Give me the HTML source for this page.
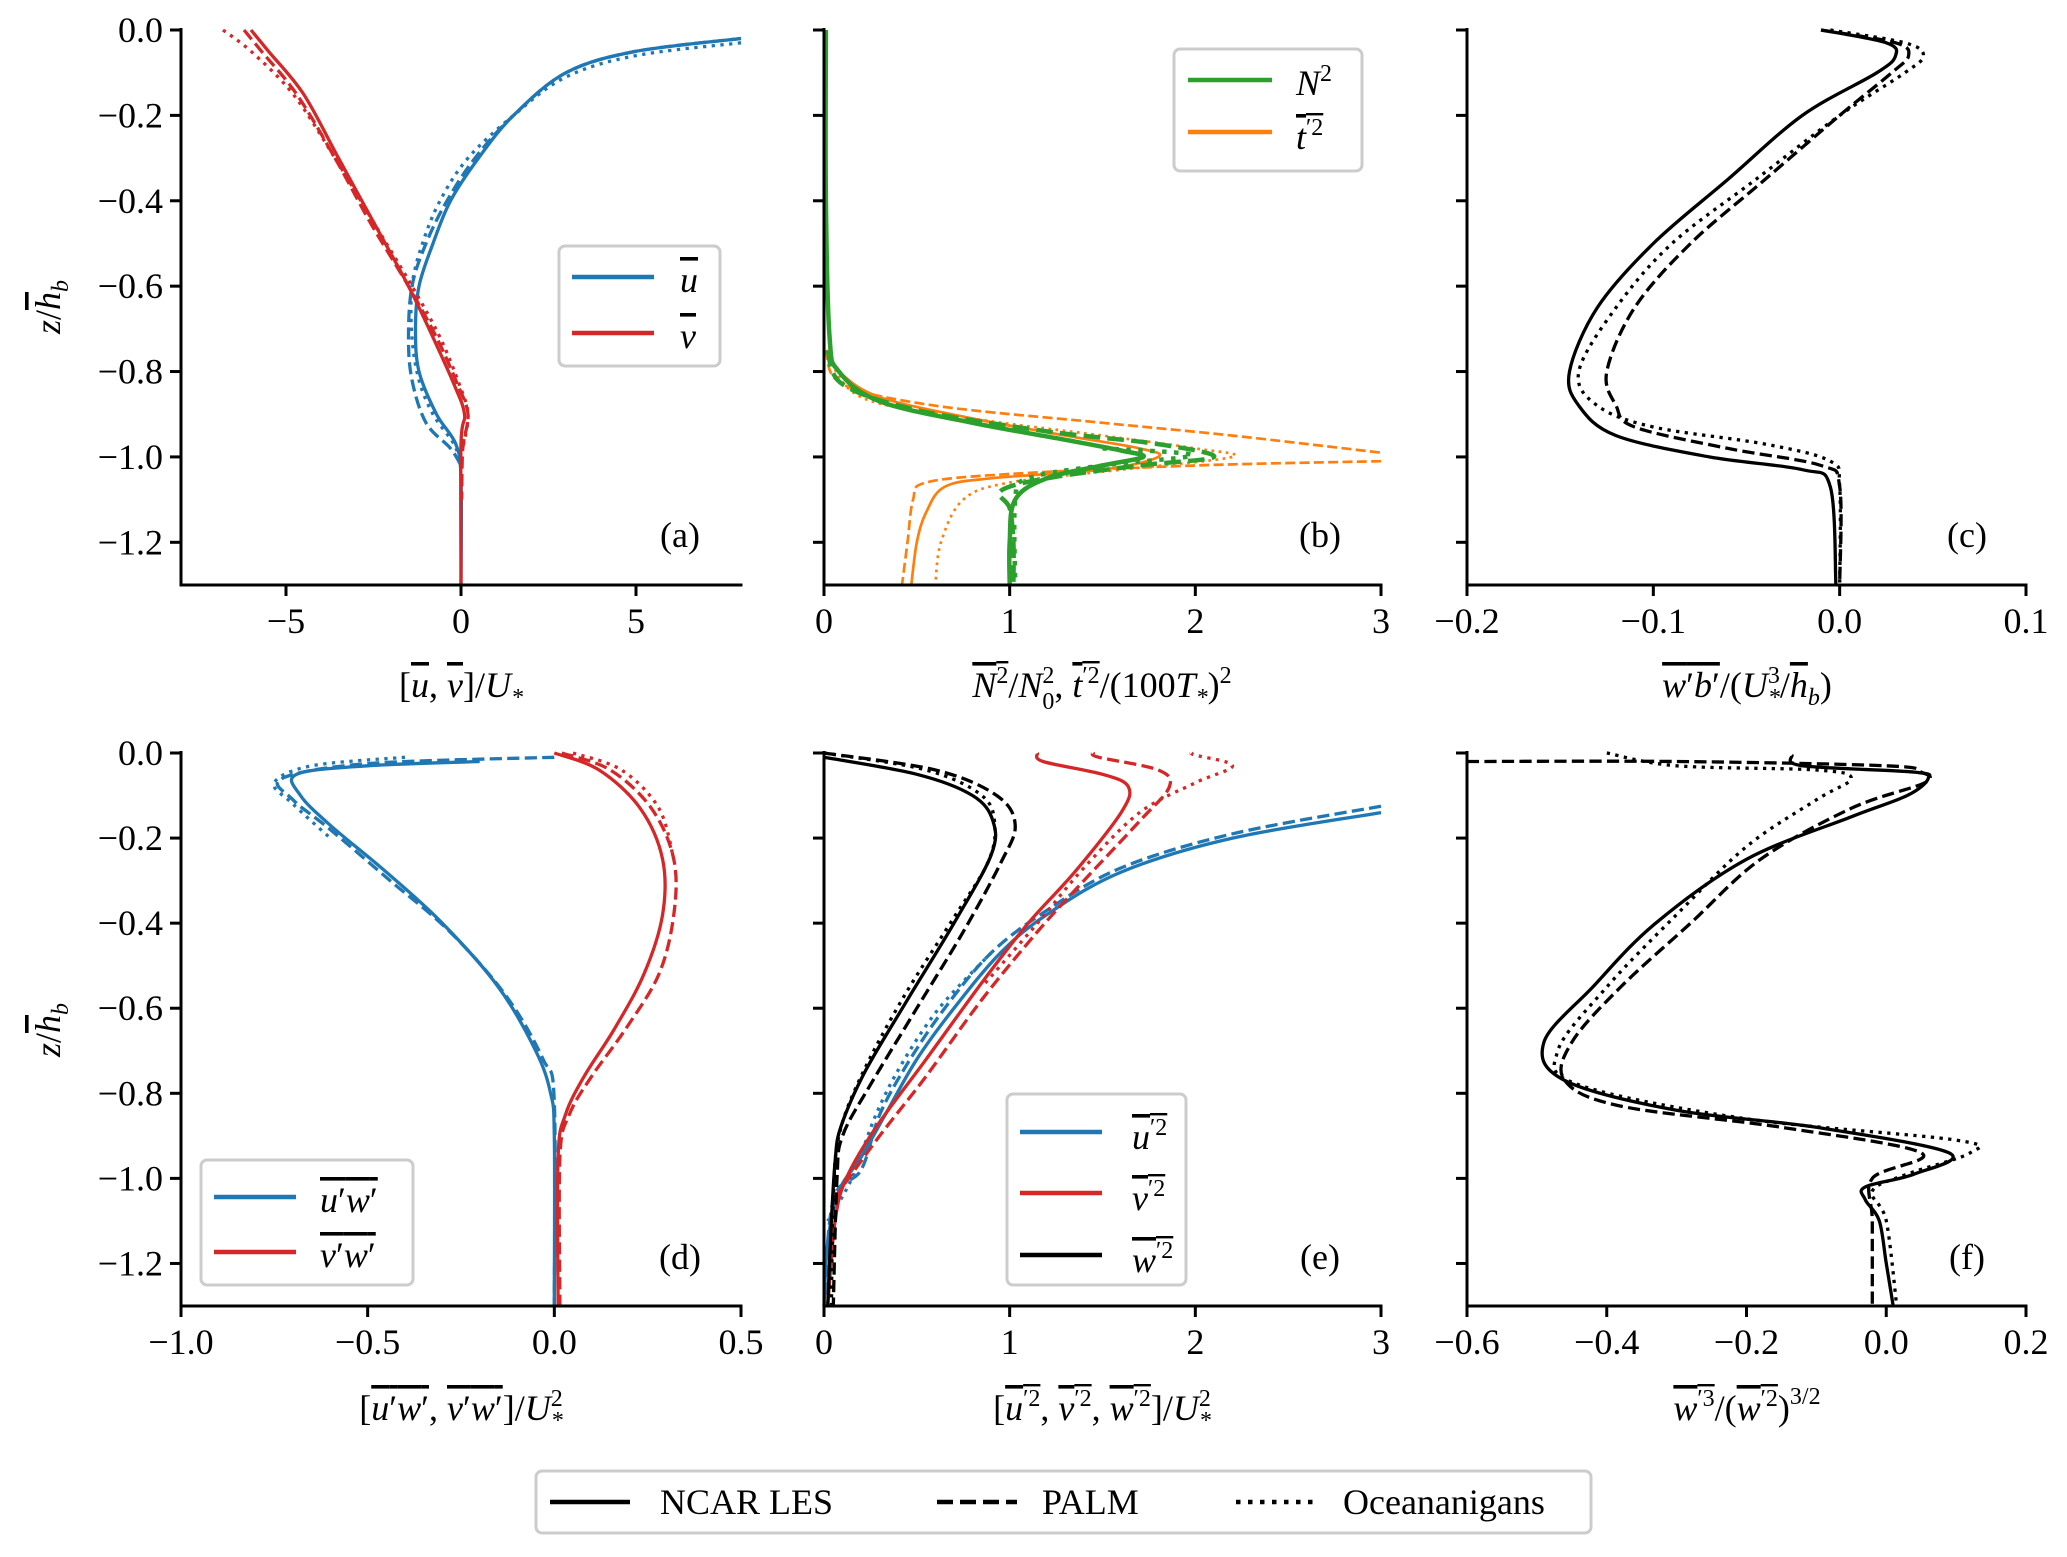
<!DOCTYPE html>
<html><head><meta charset="utf-8"><style>
html,body{margin:0;padding:0;background:#fff;}
svg{display:block;font-family:"Liberation Serif",serif;}
.t{font-size:36px;fill:#000;}
.lb{font-size:36px;fill:#000;font-style:italic;}
.o{text-decoration:overline;}
.n{font-style:normal;}
</style></head><body>
<svg id="s" width="2067" height="1557" viewBox="0 0 2067 1557" xmlns="http://www.w3.org/2000/svg">
<rect width="2067" height="1557" fill="#fff"/>
<g id="curves"></g>
<g id="axes" stroke="#000" stroke-width="3" fill="none"></g>
<g id="texts"></g>

<!-- x labels -->
<text class="lb" x="461" y="697" text-anchor="middle"><tspan class="n">[</tspan><tspan class="o">u</tspan><tspan class="n">, </tspan><tspan class="o">v</tspan><tspan class="n">]/</tspan>U<tspan font-size="24" dy="8">*</tspan></text>
<text class="lb" x="1102" y="697" text-anchor="middle"><tspan class="o">N<tspan font-size="24" dy="-14" class="n">2</tspan></tspan><tspan dy="14" class="n">/</tspan>N<tspan font-size="24" dy="-14" class="n">2</tspan><tspan font-size="24" dx="-12" dy="26" class="n">0</tspan><tspan dy="-12" class="n">, </tspan><tspan class="o">t<tspan class="n" font-size="24" dy="-14">′2</tspan></tspan><tspan dy="14" class="n">/(100</tspan>T<tspan font-size="24" dy="8">*</tspan><tspan class="n" dy="-8">)</tspan><tspan font-size="24" dy="-14" class="n">2</tspan></text>
<text class="lb" x="1747" y="697" text-anchor="middle"><tspan class="o">w<tspan class="n">′</tspan>b<tspan class="n">′</tspan></tspan><tspan class="n">/(</tspan>U<tspan font-size="24" dy="-14" class="n">3</tspan><tspan font-size="24" dx="-12" dy="22">*</tspan><tspan class="n" dy="-8">/</tspan><tspan class="o">h</tspan><tspan font-size="24" dy="8">b</tspan><tspan class="n" dy="-8">)</tspan></text>

<text class="lb" x="461" y="1420" text-anchor="middle"><tspan class="n">[</tspan><tspan class="o">u<tspan class="n">′</tspan>w<tspan class="n">′</tspan></tspan><tspan class="n">, </tspan><tspan class="o">v<tspan class="n">′</tspan>w<tspan class="n">′</tspan></tspan><tspan class="n">]/</tspan>U<tspan font-size="24" dy="-14" class="n">2</tspan><tspan font-size="24" dx="-12" dy="22">*</tspan></text>
<text class="lb" x="1102" y="1420" text-anchor="middle"><tspan class="n">[</tspan><tspan class="o">u<tspan class="n" font-size="24" dy="-14">′2</tspan></tspan><tspan class="n" dy="14">, </tspan><tspan class="o">v<tspan class="n" font-size="24" dy="-14">′2</tspan></tspan><tspan class="n" dy="14">, </tspan><tspan class="o">w<tspan class="n" font-size="24" dy="-14">′2</tspan></tspan><tspan class="n" dy="14">]/</tspan>U<tspan font-size="24" dy="-14" class="n">2</tspan><tspan font-size="24" dx="-12" dy="22">*</tspan></text>
<text class="lb" x="1747" y="1420" text-anchor="middle"><tspan class="o">w<tspan class="n" font-size="24" dy="-14">′3</tspan></tspan><tspan class="n" dy="14">/(</tspan><tspan class="o">w<tspan class="n" font-size="24" dy="-14">′2</tspan></tspan><tspan class="n" dy="14">)</tspan><tspan class="n" font-size="24" dy="-16">3/2</tspan></text>

<!-- y labels -->
<text class="lb" transform="translate(60,307) rotate(-90)" text-anchor="middle">z<tspan class="n">/</tspan><tspan class="o">h</tspan><tspan font-size="24" dy="8">b</tspan></text>
<text class="lb" transform="translate(60,1030) rotate(-90)" text-anchor="middle">z<tspan class="n">/</tspan><tspan class="o">h</tspan><tspan font-size="24" dy="8">b</tspan></text>

<!-- panel letters -->
<text class="t" x="680" y="547" text-anchor="middle" font-size="38">(a)</text>
<text class="t" x="1320" y="547" text-anchor="middle" font-size="38">(b)</text>
<text class="t" x="1967" y="547" text-anchor="middle" font-size="38">(c)</text>
<text class="t" x="680" y="1269" text-anchor="middle" font-size="38">(d)</text>
<text class="t" x="1320" y="1269" text-anchor="middle" font-size="38">(e)</text>
<text class="t" x="1967" y="1269" text-anchor="middle" font-size="38">(f)</text>

<!-- legends -->
<g fill="#fff" stroke="#ccc" stroke-width="3">
<rect x="559" y="246" width="161" height="120" rx="6"/>
<rect x="1174" y="49" width="188" height="122" rx="6"/>
<rect x="201" y="1160" width="212" height="125" rx="6"/>
<rect x="1007" y="1094" width="179" height="191" rx="6"/>
<rect x="536" y="1471" width="1055" height="62" rx="6"/>
</g>
<g stroke-width="4.5">
<line x1="572" y1="277" x2="654" y2="277" stroke="#1f77b4"/>
<line x1="572" y1="333" x2="654" y2="333" stroke="#d62728"/>
<line x1="1188" y1="80" x2="1272" y2="80" stroke="#2ca02c"/>
<line x1="1188" y1="132" x2="1272" y2="132" stroke="#ff7f0e"/>
<line x1="214" y1="1197" x2="296" y2="1197" stroke="#1f77b4"/>
<line x1="214" y1="1252" x2="296" y2="1252" stroke="#d62728"/>
<line x1="1020" y1="1132" x2="1102" y2="1132" stroke="#1f77b4"/>
<line x1="1020" y1="1193" x2="1102" y2="1193" stroke="#d62728"/>
<line x1="1020" y1="1255" x2="1102" y2="1255" stroke="#000"/>
<line x1="550" y1="1502" x2="630" y2="1502" stroke="#000"/>
<line x1="937" y1="1502" x2="1017" y2="1502" stroke="#000" stroke-dasharray="16,7"/>
<line x1="1236" y1="1502" x2="1316" y2="1502" stroke="#000" stroke-dasharray="4.5,7.5"/>
</g>
<g>
<text x="680" y="292" class="lb"><tspan class="o">u</tspan></text>
<text x="680" y="348" class="lb"><tspan class="o">v</tspan></text>
<text x="1296" y="95" class="lb">N<tspan font-size="24" dy="-14" class="n">2</tspan></text>
<text x="1296" y="149" class="lb"><tspan class="o">t<tspan font-size="24" dy="-14" class="n">′2</tspan></tspan></text>
<text x="320" y="1212" class="lb"><tspan class="o">u<tspan class="n">′</tspan>w<tspan class="n">′</tspan></tspan></text>
<text x="320" y="1267" class="lb"><tspan class="o">v<tspan class="n">′</tspan>w<tspan class="n">′</tspan></tspan></text>
<text x="1132" y="1149" class="lb"><tspan class="o">u<tspan font-size="24" dy="-14" class="n">′2</tspan></tspan></text>
<text x="1132" y="1210" class="lb"><tspan class="o">v<tspan font-size="24" dy="-14" class="n">′2</tspan></tspan></text>
<text x="1132" y="1272" class="lb"><tspan class="o">w<tspan font-size="24" dy="-14" class="n">′2</tspan></tspan></text>
</g>
<text class="t" x="660" y="1514">NCAR LES</text>
<text class="t" x="1042" y="1514">PALM</text>
<text class="t" x="1343" y="1514">Oceananigans</text>
</svg>
<script>
(function(){
var NS="http://www.w3.org/2000/svg";
var top=[30,585],bot=[753,1306];
var cols={a:[181,741,-8,8],b:[824,1381,0,3],c:[1467,2026,-0.2,0.1],d:[181,741,-1,0.5],e:[824,1381,0,3],f:[1467,2026,-0.6,0.2]};
var rows={a:top,b:top,c:top,d:bot,e:bot,f:bot};
function mx(p,v){var c=cols[p];return c[0]+(v-c[2])/(c[3]-c[2])*(c[1]-c[0]);}
function my(p,z){var r=rows[p];return r[0]+(-z)/1.3*(r[1]-r[0]);}
var cg=document.getElementById('curves');
function path(p,pts,color,style,w){
  var P=pts.map(function(q){return [mx(p,q[0]),my(p,q[1])];});
  var d="M"+P[0][0].toFixed(1)+","+P[0][1].toFixed(1);
  for(var i=0;i<P.length-1;i++){
    var p0=P[i-1]||P[i],p1=P[i],p2=P[i+1],p3=P[i+2]||P[i+1];
    var c1=[p1[0]+(p2[0]-p0[0])/6,p1[1]+(p2[1]-p0[1])/6];
    var c2=[p2[0]-(p3[0]-p1[0])/6,p2[1]-(p3[1]-p1[1])/6];
    d+="C"+c1[0].toFixed(1)+","+c1[1].toFixed(1)+" "+c2[0].toFixed(1)+","+c2[1].toFixed(1)+" "+p2[0].toFixed(1)+","+p2[1].toFixed(1);
  }
  var e=document.createElementNS(NS,"path");
  e.setAttribute("d",d);e.setAttribute("fill","none");e.setAttribute("stroke",color);
  w=w||3.3;e.setAttribute("stroke-width",w);
  if(style==="--")e.setAttribute("stroke-dasharray",(3.7*w)+","+(1.6*w));
  if(style===":")e.setAttribute("stroke-dasharray",(1*w)+","+(1.65*w));
  cg.appendChild(e);
}
var B="#1f77b4",R="#d62728",G="#2ca02c",O="#ff7f0e",K="#000";
// (a)
path('a',[[8,-0.02],[5,-0.05],[3,-0.1],[1.5,-0.2],[0.5,-0.3],[-0.3,-0.4],[-0.8,-0.5],[-1.2,-0.6],[-1.3,-0.7],[-1.2,-0.8],[-0.7,-0.9],[-0.15,-0.97],[0,-1.05],[0,-1.3]],B,'-');
path('a',[[8,-0.02],[5,-0.05],[3,-0.1],[1.5,-0.2],[0.4,-0.3],[-0.4,-0.4],[-1.0,-0.5],[-1.4,-0.6],[-1.5,-0.72],[-1.4,-0.82],[-1.0,-0.92],[-0.3,-0.98],[0,-1.02]],B,'--');
path('a',[[8,-0.03],[5,-0.06],[3,-0.11],[1.5,-0.2],[0.2,-0.3],[-0.6,-0.4],[-1.1,-0.5],[-1.4,-0.6],[-1.4,-0.72],[-1.2,-0.82],[-0.8,-0.9],[-0.2,-0.97],[0,-1.02]],B,':');
path('a',[[-6,0],[-5.5,-0.05],[-4.5,-0.15],[-3.5,-0.3],[-2.5,-0.45],[-1.5,-0.6],[-0.8,-0.72],[-0.2,-0.83],[0.1,-0.9],[0,-0.97],[0,-1.3]],R,'-');
path('a',[[-6.2,0],[-5.7,-0.05],[-4.7,-0.15],[-3.6,-0.3],[-2.6,-0.45],[-1.5,-0.6],[-0.7,-0.72],[-0.1,-0.83],[0.2,-0.9],[0.05,-0.98],[0.02,-1.1]],R,'--');
path('a',[[-6.8,0],[-6,-0.05],[-4.8,-0.15],[-3.6,-0.3],[-2.5,-0.45],[-1.4,-0.6],[-0.6,-0.72],[-0.05,-0.83],[0.2,-0.9],[0.05,-0.98]],R,':');
// (b)
path('b',[[0.01,-0.75],[0.08,-0.8],[0.3,-0.86],[0.8,-0.91],[1.3,-0.95],[1.7,-0.98],[1.8,-1.0],[1.5,-1.03],[0.9,-1.05],[0.65,-1.07],[0.55,-1.13],[0.5,-1.2],[0.47,-1.3]],O,'-',2.7);
path('b',[[0.01,-0.75],[0.1,-0.83],[0.6,-0.88],[1.5,-0.92],[2.2,-0.95],[3.0,-0.99]],O,'--',2.7);
path('b',[[3.0,-1.01],[2.0,-1.02],[1.0,-1.04],[0.55,-1.06],[0.48,-1.1],[0.45,-1.2],[0.42,-1.3]],O,'--',2.7);
path('b',[[0.01,-0.75],[0.2,-0.86],[0.8,-0.91],[1.5,-0.95],[2.0,-0.98],[2.2,-1.0],[1.6,-1.03],[1.0,-1.06],[0.75,-1.1],[0.63,-1.2],[0.6,-1.3]],O,':',2.7);
path('b',[[0.01,0],[0.01,-0.4],[0.03,-0.72],[0.08,-0.8],[0.3,-0.87],[0.8,-0.92],[1.3,-0.96],[1.6,-0.985],[1.72,-1.0],[1.5,-1.02],[1.2,-1.05],[1.03,-1.1],[1.0,-1.2],[1.0,-1.3]],G,'-',4.5);
path('b',[[0.02,-0.75],[0.1,-0.83],[0.5,-0.89],[1.2,-0.94],[1.8,-0.97],[2.1,-1.0],[1.7,-1.02],[1.2,-1.05],[0.95,-1.08],[1.0,-1.12],[1.02,-1.2],[1.02,-1.3]],G,'--',4.5);
path('b',[[1.5,-0.98],[1.9,-0.99],[1.95,-1.0],[1.5,-1.02],[1.1,-1.05],[1.03,-1.1],[1.03,-1.3]],G,':',4.5);
// (c)
path('c',[[-0.01,0],[0.025,-0.03],[0.03,-0.06],[0.02,-0.1],[-0.02,-0.2],[-0.06,-0.35],[-0.1,-0.5],[-0.13,-0.65],[-0.145,-0.8],[-0.14,-0.88],[-0.12,-0.95],[-0.07,-1.0],[-0.02,-1.03],[-0.005,-1.07],[-0.002,-1.3]],K,'-');
path('c',[[-0.01,0],[0.03,-0.03],[0.037,-0.06],[0.028,-0.1],[0.0,-0.2],[-0.04,-0.35],[-0.08,-0.5],[-0.11,-0.65],[-0.125,-0.8],[-0.12,-0.88],[-0.11,-0.93],[-0.06,-0.98],[-0.01,-1.02],[0,-1.07],[0,-1.3]],K,'--');
path('c',[[-0.005,0],[0.035,-0.03],[0.045,-0.06],[0.035,-0.1],[0.0,-0.2],[-0.045,-0.35],[-0.09,-0.5],[-0.12,-0.65],[-0.14,-0.8],[-0.13,-0.88],[-0.1,-0.93],[-0.04,-0.97],[-0.005,-1.01],[0.0,-1.07],[0,-1.3]],K,':');
// (d)
path('d',[[-0.2,-0.02],[-0.5,-0.03],[-0.69,-0.05],[-0.68,-0.1],[-0.6,-0.17],[-0.45,-0.28],[-0.3,-0.4],[-0.15,-0.55],[-0.05,-0.7],[-0.01,-0.8],[0,-0.9],[0,-1.3]],B,'-');
path('d',[[0,-0.01],[-0.5,-0.025],[-0.73,-0.06],[-0.7,-0.11],[-0.6,-0.18],[-0.44,-0.3],[-0.28,-0.42],[-0.13,-0.57],[-0.03,-0.72],[0,-0.82],[0,-1.3]],B,'--');
path('d',[[-0.4,-0.01],[-0.65,-0.03],[-0.75,-0.07],[-0.7,-0.12],[-0.6,-0.2]],B,':');
path('d',[[0,-0.0],[0.12,-0.04],[0.23,-0.13],[0.29,-0.25],[0.29,-0.38],[0.24,-0.52],[0.16,-0.65],[0.08,-0.76],[0.03,-0.85],[0.01,-0.95],[0.01,-1.3]],R,'-');
path('d',[[0.02,-0.0],[0.15,-0.04],[0.26,-0.13],[0.32,-0.25],[0.32,-0.38],[0.28,-0.52],[0.19,-0.65],[0.1,-0.76],[0.04,-0.85],[0.015,-0.95],[0.015,-1.3]],R,'--');
path('d',[[0.05,-0.0],[0.18,-0.04],[0.28,-0.13],[0.32,-0.25]],R,':');
// (e)
path('e',[[3,-0.14],[2.2,-0.2],[1.6,-0.28],[1.2,-0.38],[0.95,-0.47],[0.7,-0.6],[0.5,-0.72],[0.33,-0.85],[0.2,-0.95],[0.08,-1.03],[0.02,-1.15],[0,-1.3]],B,'-');
path('e',[[3,-0.125],[2.2,-0.19],[1.6,-0.27],[1.2,-0.37],[0.9,-0.47],[0.65,-0.6],[0.45,-0.73],[0.3,-0.85],[0.2,-0.98],[0.05,-1.05],[0,-1.3]],B,'--');
path('e',[[0.9,-0.47],[0.62,-0.6],[0.42,-0.73],[0.28,-0.85],[0.15,-1.0],[0.02,-1.1]],B,':');
path('e',[[1.15,-0.0],[1.18,-0.02],[1.5,-0.05],[1.64,-0.08],[1.6,-0.14],[1.35,-0.28],[1.1,-0.4],[0.85,-0.54],[0.55,-0.72],[0.28,-0.88],[0.12,-1.0],[0.06,-1.1],[0.02,-1.3]],R,'-');
path('e',[[1.45,-0.0],[1.48,-0.01],[1.8,-0.04],[1.86,-0.08],[1.7,-0.16],[1.4,-0.3],[1.15,-0.42],[0.85,-0.58],[0.55,-0.76],[0.3,-0.9],[0.05,-1.05]],R,'--');
path('e',[[1.98,-0.0],[2.0,-0.005],[2.2,-0.03],[2.0,-0.07],[1.7,-0.14],[1.4,-0.27],[1.15,-0.4],[0.85,-0.55]],R,':');
path('e',[[0.0,-0.01],[0.5,-0.05],[0.8,-0.1],[0.91,-0.16],[0.9,-0.24],[0.7,-0.4],[0.45,-0.58],[0.22,-0.75],[0.09,-0.88],[0.06,-0.96],[0.04,-1.1],[0.02,-1.3]],K,'-');
path('e',[[0.0,-0.0],[0.6,-0.04],[0.93,-0.1],[1.03,-0.17],[0.95,-0.26],[0.75,-0.42],[0.5,-0.6],[0.25,-0.78],[0.1,-0.9],[0.07,-1.0],[0.05,-1.3]],K,'--');
path('e',[[0.0,-0.0],[0.55,-0.04],[0.85,-0.1],[0.92,-0.17],[0.88,-0.26],[0.68,-0.4],[0.42,-0.58],[0.2,-0.76],[0.08,-0.9],[0.05,-1.05],[0.04,-1.3]],K,':');
// (f)
path('f',[[-0.135,-0.005],[-0.12,-0.03],[0.04,-0.045],[0.06,-0.06],[0.03,-0.1],[-0.05,-0.15],[-0.2,-0.25],[-0.33,-0.4],[-0.42,-0.55],[-0.49,-0.68],[-0.46,-0.77],[-0.3,-0.84],[-0.1,-0.88],[0.09,-0.94],[0.04,-0.99],[-0.03,-1.02],[-0.03,-1.05],[-0.01,-1.1],[0.0,-1.2],[0.01,-1.3]],K,'-');
path('f',[[-0.6,-0.02],[-0.3,-0.02],[0.0,-0.03],[0.05,-0.045],[0.055,-0.07],[-0.05,-0.13],[-0.18,-0.25],[-0.28,-0.4],[-0.38,-0.55],[-0.45,-0.68],[-0.46,-0.77],[-0.38,-0.83],[-0.15,-0.88],[0.05,-0.94],[-0.02,-1.0],[-0.02,-1.1],[-0.02,-1.3]],K,'--');
path('f',[[-0.4,-0.0],[-0.3,-0.03],[-0.1,-0.04],[-0.05,-0.06],[-0.1,-0.11],[-0.2,-0.22],[-0.3,-0.38],[-0.4,-0.55],[-0.47,-0.7],[-0.44,-0.78],[-0.2,-0.86],[0.1,-0.91],[0.12,-0.94],[0.03,-0.99],[-0.02,-1.03],[0.0,-1.1],[0.015,-1.3]],K,':');

// axes
var ax=document.getElementById('axes'),tx=document.getElementById('texts');
function L(x1,y1,x2,y2){var e=document.createElementNS(NS,"line");e.setAttribute("x1",x1);e.setAttribute("y1",y1);e.setAttribute("x2",x2);e.setAttribute("y2",y2);ax.appendChild(e);}
function T(x,y,s,anchor){var e=document.createElementNS(NS,"text");e.setAttribute("x",x);e.setAttribute("y",y);e.setAttribute("class","t");e.setAttribute("text-anchor",anchor);e.textContent=s;tx.appendChild(e);}
var xt={a:[[-5,"−5"],[0,"0"],[5,"5"]],b:[[0,"0"],[1,"1"],[2,"2"],[3,"3"]],c:[[-0.2,"−0.2"],[-0.1,"−0.1"],[0,"0.0"],[0.1,"0.1"]],
 d:[[-1,"−1.0"],[-0.5,"−0.5"],[0,"0.0"],[0.5,"0.5"]],e:[[0,"0"],[1,"1"],[2,"2"],[3,"3"]],f:[[-0.6,"−0.6"],[-0.4,"−0.4"],[-0.2,"−0.2"],[0,"0.0"],[0.2,"0.2"]]};
["a","b","c","d","e","f"].forEach(function(p){
  var c=cols[p],r=rows[p];
  L(c[0],r[0]-2,c[0],r[1]);L(c[0]-1.5,r[1],c[1]+1.5,r[1]);
  xt[p].forEach(function(t){var x=mx(p,t[0]);L(x,r[1],x,r[1]+11);T(x,r[1]+48,t[1],"middle");});
  for(var k=0;k<=6;k++){var z=-0.2*k,y=my(p,z);L(c[0]-11,y,c[0],y);
    if(p==="a"||p==="d")T(c[0]-18,y+12,(k===0?"0.0":"−"+(0.2*k).toFixed(1)),"end");}
});
})();
</script>
</body></html>
